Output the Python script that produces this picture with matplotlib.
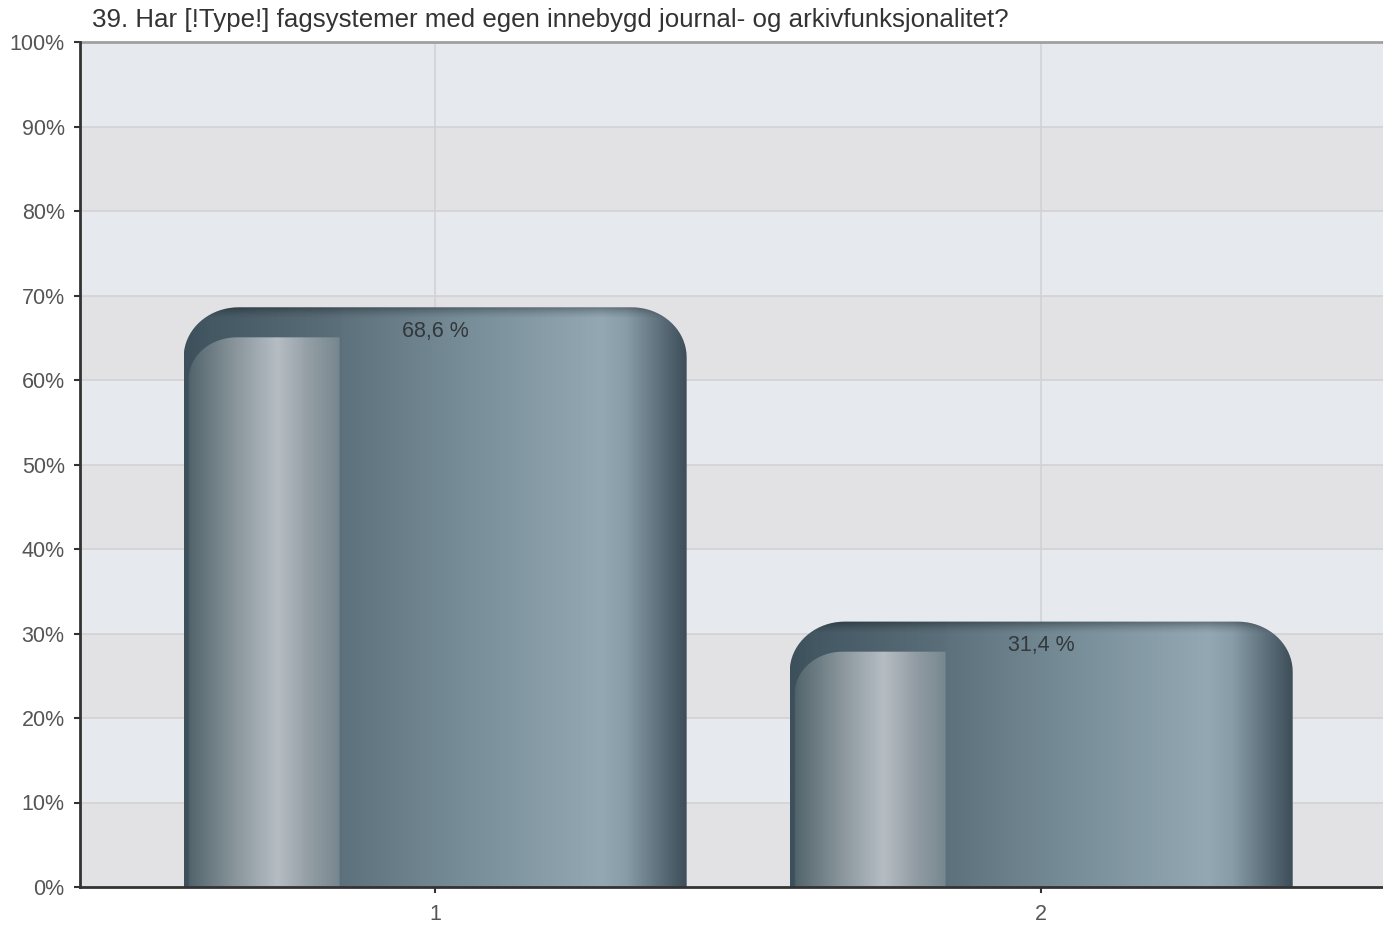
import numpy as np
import matplotlib
matplotlib.use("Agg")
import matplotlib.pyplot as plt
from matplotlib.path import Path
from matplotlib.patches import PathPatch
from matplotlib.colors import LinearSegmentedColormap

# Data
categories = ["1", "2"]
values = [68.6, 31.4]
value_labels = ["68,6 %", "31,4 %"]
yticks = [0, 10, 20, 30, 40, 50, 60, 70, 80, 90, 100]
ytick_labels = ["0%", "10%", "20%", "30%", "40%", "50%", "60%", "70%", "80%", "90%", "100%"]
title = "39. Har [!Type!] fagsystemer med egen innebygd journal- og arkivfunksjonalitet?"

plt.rcParams["font.family"] = ["Liberation Sans", "DejaVu Sans"]

W, H = 1383, 925
fig = plt.figure(figsize=(W / 100, H / 100), dpi=100)
ax = fig.add_axes([80 / W, 38 / H, 1 - 80 / W, (887 - 42) / H])

xlim = (0.414, 2.564)
ax.set_xlim(*xlim)
ax.set_ylim(0, 100)

# pixel -> data scale helpers
px_x = (xlim[1] - xlim[0]) / (W - 80)
px_y = 100 / (887 - 42)

# background bands
for i in range(10):
    c = "#e6eaee" if i % 2 == 1 else "#e2e2e4"
    ax.axhspan(i * 10, (i + 1) * 10, color=c, zorder=0, lw=0)
for t in yticks[1:-1]:
    ax.axhline(t, color="#d2d2d4", lw=1.2, zorder=1)
for i in range(len(categories)):
    ax.axvline(i + 1, color="#d2d2d4", lw=1.2, zorder=1)

main_cmap = LinearSegmentedColormap.from_list("main", [
    (0.0, "#3c4f5a"), (0.05, "#445863"), (0.309, "#5b6f7a"), (0.311, "#5d717c"),
    (0.55, "#768c97"), (0.83, "#93a8b3"), (0.88, "#879ca7"),
    (0.95, "#5b6d78"), (1.0, "#3c4d58")])
hl_cmap = LinearSegmentedColormap.from_list("hl", [
    (0.0, "#3f535d"), (0.05, "#56686f"), (0.35, "#8d999f"), (0.6, "#b6bdc4"),
    (0.8, "#939ea4"), (1.0, "#77878f")])


def rounded_path(x0, x1, y0, y1, rx, ry, right_round=True):
    t = np.linspace(np.pi, np.pi / 2, 20)
    verts = [(x0, y0)]
    verts += list(zip(x0 + rx + rx * np.cos(t), y1 - ry + ry * np.sin(t)))
    if right_round:
        t2 = np.linspace(np.pi / 2, 0, 20)
        verts += list(zip(x1 - rx + rx * np.cos(t2), y1 - ry + ry * np.sin(t2)))
    else:
        verts += [(x1, y1)]
    verts += [(x1, y0), (x0, y0)]
    return Path(verts, closed=True)


width = 0.83
grad = np.linspace(0, 1, 512).reshape(1, -1)
for i, v in enumerate(values):
    xc = i + 1
    x0, x1 = xc - width / 2, xc + width / 2
    p = rounded_path(x0, x1, 0, v, 55 * px_x, 50 * px_y)
    patch = PathPatch(p, facecolor="none", edgecolor="none")
    ax.add_patch(patch)
    im = ax.imshow(grad, cmap=main_cmap, extent=(x0, x1, 0, v), aspect="auto",
                   interpolation="bilinear", zorder=2)
    im.set_clip_path(patch)

    # top shading
    shade = np.zeros((40, 1, 4))
    shade[:, 0, 3] = np.linspace(0, 0.35, 40) ** 1.5 / 0.35 ** 0.5
    im2 = ax.imshow(shade, extent=(x0, x1, v - 12 * px_y, v), aspect="auto",
                    origin="lower", interpolation="bilinear", zorder=3)
    im2.set_clip_path(patch)

    # highlight
    hx0 = x0 + 5 * px_x
    hx1 = x0 + 0.31 * width
    htop = v - 30 * px_y
    hp = rounded_path(hx0, hx1, 0, htop, 48 * px_x, 42 * px_y, right_round=False)
    hpatch = PathPatch(hp, facecolor="none", edgecolor="none")
    ax.add_patch(hpatch)
    im3 = ax.imshow(grad, cmap=hl_cmap, extent=(x0, hx1, 0, htop), aspect="auto",
                    interpolation="bilinear", zorder=4)
    im3.set_clip_path(hpatch)

    ax.annotate(value_labels[i], (xc, v), xytext=(0, -17.3), textcoords="offset points",
                ha="center", va="center", fontsize=15.5, color="#33383c", zorder=6)

ax.set_xticks(range(1, len(categories) + 1))
ax.set_xticklabels(categories)
ax.set_yticks(yticks)
ax.set_yticklabels(ytick_labels)
ax.tick_params(axis="both", direction="out", length=4.5, width=1.5, color="#333333",
               labelsize=15.5, labelcolor="#555555")
ax.tick_params(axis="y", pad=6.5)
ax.tick_params(axis="x", pad=8)

for s in ["left", "bottom"]:
    ax.spines[s].set_color("#333333")
    ax.spines[s].set_linewidth(2)
ax.spines["top"].set_color("#a0a0a0")
ax.spines["top"].set_linewidth(2)
ax.spines["right"].set_visible(False)
ax.spines["left"].set_zorder(7)
ax.spines["bottom"].set_zorder(7)

fig.text(92 / W, 1 - 20 / H, title, ha="left", va="center", fontsize=18.6, color="#333333")

fig.savefig("out.png", dpi=100)
